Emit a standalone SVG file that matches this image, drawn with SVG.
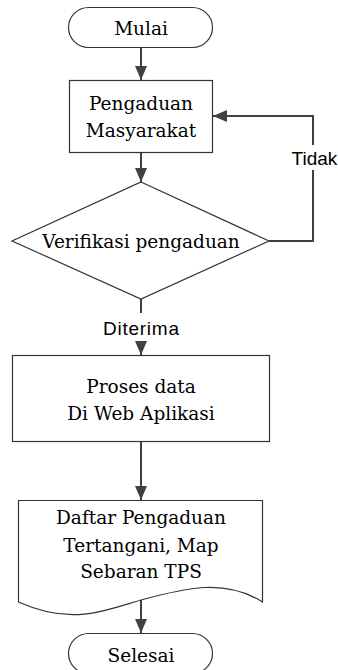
<svg xmlns="http://www.w3.org/2000/svg" width="338" height="670" viewBox="0 0 338 670">
<style>
.shape{fill:#fff;stroke:#333;stroke-width:1.2}
.conn{fill:none;stroke:#404040;stroke-width:2}
.t{font-family:"DejaVu Serif","Liberation Serif",serif;font-size:18.5px;fill:#000;text-anchor:middle}
.lbl{font-family:"Liberation Sans",Arial,sans-serif;font-size:19px;fill:#000;text-anchor:middle}
</style>
<defs>
<marker id="ah" viewBox="0 0 14 12" refX="14" refY="6" markerWidth="14" markerHeight="12" markerUnits="userSpaceOnUse" orient="auto">
<path d="M0,0 L14,6 L0,12 Z" fill="#404040"/>
</marker>
</defs>
<rect width="338" height="670" fill="#fff"/>
<g id="connectors">
<line class="conn" x1="141" y1="48" x2="141" y2="80" marker-end="url(#ah)"/>
<line class="conn" x1="141" y1="153" x2="141" y2="182" marker-end="url(#ah)"/>
<polyline class="conn" points="269,241 313,241 313,170"/>
<polyline class="conn" points="313,145 313,116 213,116" marker-end="url(#ah)"/>
<line class="conn" x1="141" y1="299" x2="141" y2="313"/>
<line class="conn" x1="141" y1="342" x2="141" y2="355" marker-end="url(#ah)"/>
<line class="conn" x1="141" y1="442" x2="141" y2="500" marker-end="url(#ah)"/>
<line class="conn" x1="141" y1="600" x2="141" y2="633" marker-end="url(#ah)"/>
<text class="lbl" x="314.5" y="165">Tidak</text>
<text class="lbl" x="141" y="335" textLength="76">Diterima</text>
</g>
<g id="mulai">
<rect class="shape" x="68.5" y="7.5" width="144" height="40" rx="20" ry="20"/>
<text class="t" x="141" y="35">Mulai</text>
</g>
<g id="pengaduan">
<rect class="shape" x="69.5" y="80.5" width="143" height="72"/>
<text class="t" x="141" y="110">Pengaduan</text>
<text class="t" x="141" y="137">Masyarakat</text>
</g>
<g id="verifikasi">
<polygon class="shape" points="141,182 269,241 141,299 12,241"/>
<text class="t" x="141" y="248">Verifikasi pengaduan</text>
</g>
<g id="proses">
<rect class="shape" x="12.5" y="355.5" width="257" height="86"/>
<text class="t" x="141" y="393">Proses data</text>
<text class="t" x="141" y="420">Di Web Aplikasi</text>
</g>
<g id="daftar">
<path class="shape" d="M18.5,500.5 L262.5,500.5 L262.5,602 C225,578 185,588 141,600 C100,612 70,625 18.5,602 Z"/>
<text class="t" x="141" y="524">Daftar Pengaduan</text>
<text class="t" x="141" y="552">Tertangani, Map</text>
<text class="t" x="141" y="578">Sebaran TPS</text>
</g>
<g id="selesai">
<rect class="shape" x="68.5" y="633.5" width="144" height="40" rx="20" ry="20"/>
<text class="t" x="141" y="662">Selesai</text>
</g>
</svg>
